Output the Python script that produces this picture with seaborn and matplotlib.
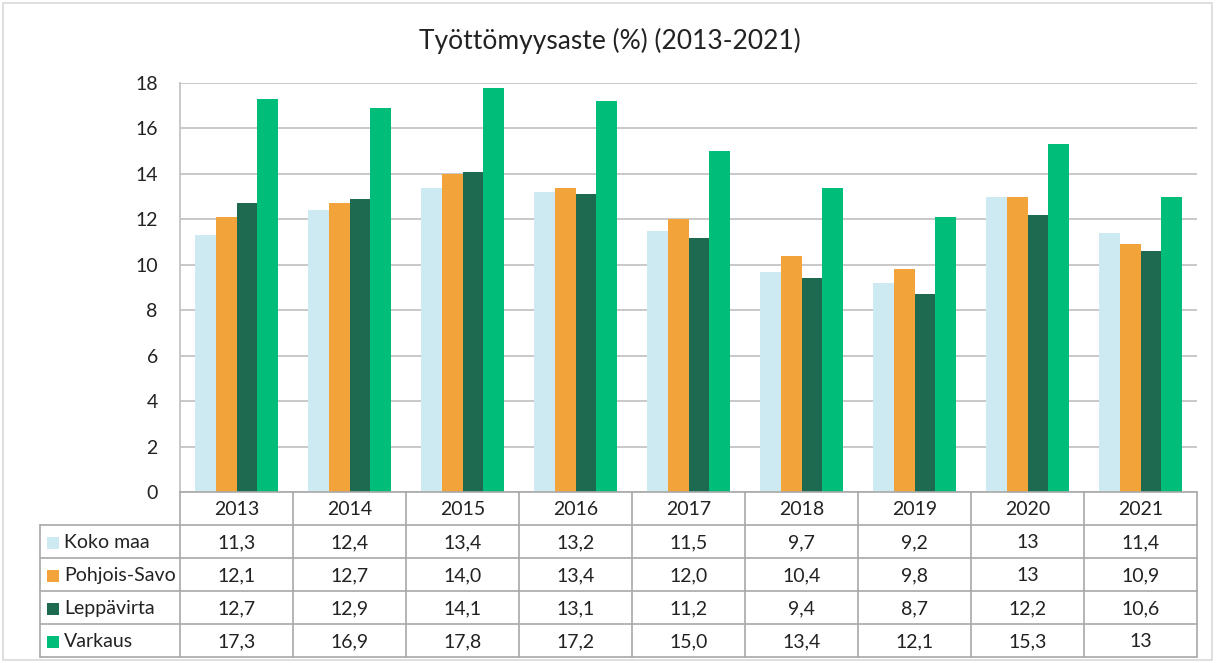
import matplotlib
matplotlib.use("Agg")
import matplotlib.pyplot as plt
import seaborn as sns
import pandas as pd
from matplotlib.patches import Rectangle

# ---- data ----
years = ["2013", "2014", "2015", "2016", "2017", "2018", "2019", "2020", "2021"]
series = ["Koko maa", "Pohjois-Savo", "Leppävirta", "Varkaus"]
koko_maa = ["11,3", "12,4", "13,4", "13,2", "11,5", "9,7", "9,2", "13", "11,4"]
pohjois_savo = ["12,1", "12,7", "14,0", "13,4", "12,0", "10,4", "9,8", "13", "10,9"]
leppavirta = ["12,7", "12,9", "14,1", "13,1", "11,2", "9,4", "8,7", "12,2", "10,6"]
varkaus = ["17,3", "16,9", "17,8", "17,2", "15,0", "13,4", "12,1", "15,3", "13"]
colors = ["#CDEAF3", "#F2A33A", "#1D6A50", "#00BE7A"]
title = "Työttömyysaste (%) (2013-2021)"
yticks = [0, 2, 4, 6, 8, 10, 12, 14, 16, 18]

labels = [koko_maa, pohjois_savo, leppavirta, varkaus]
rows = []
for s, lab in zip(series, labels):
    for y, v in zip(years, lab):
        rows.append({"year": y, "series": s, "value": float(v.replace(",", "."))})
df = pd.DataFrame(rows)

# ---- layout (pixels) ----
W, H = 1216, 663
L, R, T, B = 180, 1197, 83, 492
TL = 40
row_h = 33
text_color = "#222222"
grid_color = "#C4C4C4"
table_color = "#A8A8A8"

sns.set_theme(style="white")
plt.rcParams["font.family"] = ["Lato", "DejaVu Sans"]

fig = plt.figure(figsize=(W / 100, H / 100), dpi=100)
ax = fig.add_axes([L / W, 1 - B / H, (R - L) / W, (B - T) / H])

sns.barplot(data=df, x="year", y="value", hue="series", hue_order=series,
            order=years, palette=colors, width=0.73, gap=0, saturation=1,
            edgecolor="none", linewidth=0, legend=False, ax=ax, zorder=3)

ax.set_ylim(0, 18)
ax.set_xlim(-0.5, len(years) - 0.5)
ax.set_yticks(yticks)
ax.set_yticklabels([str(t) for t in yticks], fontsize=14, color=text_color)
ax.set_xticks([])
ax.set_xlabel("")
ax.set_ylabel("")
ax.tick_params(axis="y", length=0, pad=16)
for t in yticks:
    ax.axhline(t, color=grid_color, lw=1.3, zorder=1)
for side in ["top", "right", "bottom"]:
    ax.spines[side].set_visible(False)
ax.spines["left"].set_color(grid_color)
ax.spines["left"].set_linewidth(1.3)

# ---- overlay in pixel coords for title, table and border ----
ov = fig.add_axes([0, 0, 1, 1], zorder=5)
ov.set_xlim(0, W)
ov.set_ylim(H, 0)
ov.axis("off")
ov.patch.set_alpha(0)

ov.add_patch(Rectangle((3, 3), W - 7, H - 6, fill=False, ec="#D9D9D9", lw=1.2))
ov.text(W / 2 + 2, 41, title, ha="center", va="center", fontsize=19, color=text_color)

ncol = len(years)
col_w = (R - L) / ncol
n_rows = len(series)
bottom = B + row_h * (n_rows + 1)
lw = 1.2
# horizontal lines
ov.plot([L, R], [B, B], color=table_color, lw=lw)
for i in range(1, n_rows + 2):
    y = B + i * row_h
    ov.plot([TL, R], [y, y], color=table_color, lw=lw)
# vertical lines
ov.plot([TL, TL], [B + row_h, bottom], color=table_color, lw=lw)
for j in range(ncol + 1):
    x = L + j * col_w
    ov.plot([x, x], [B, bottom], color=table_color, lw=lw)

fs = 14
for j, yr in enumerate(years):
    ov.text(L + (j + 0.5) * col_w, B + row_h / 2 + 1, yr, ha="center", va="center",
            fontsize=fs, color=text_color)
for i, (s, lab, c) in enumerate(zip(series, labels, colors)):
    yc = B + (i + 1.5) * row_h + 1
    ov.add_patch(Rectangle((TL + 7, yc - 6), 12, 12, color=c, lw=0))
    ov.text(TL + 24, yc, s, ha="left", va="center", fontsize=fs, color=text_color)
    for j, v in enumerate(lab):
        ov.text(L + (j + 0.5) * col_w, yc, v, ha="center", va="center",
                fontsize=fs, color=text_color)

fig.savefig("out.png", dpi=100)
